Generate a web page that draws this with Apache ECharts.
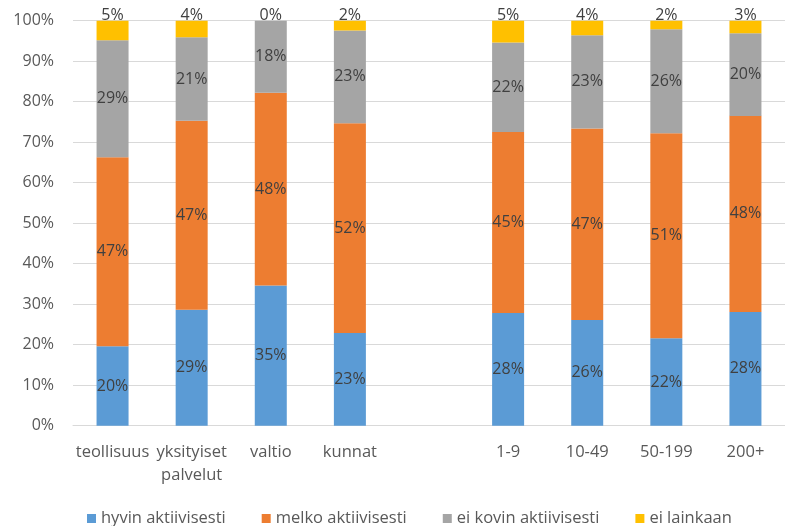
<!DOCTYPE html>
<html>
<head>
<meta charset="utf-8">
<script src="https://cdn.jsdelivr.net/npm/echarts@6/dist/echarts.min.js"></script>
<style>
html,body{margin:0;padding:0;background:#fff;}
#chart{width:785px;height:526px;}
</style>
</head>
<body>
<div id="chart"></div>
<script>
const categories = ['teollisuus', 'yksityiset\npalvelut', 'valtio', 'kunnat', '', '1-9', '10-49', '50-199', '200+'];
const seriesNames = ['hyvin aktiivisesti', 'melko aktiivisesti', 'ei kovin aktiivisesti', 'ei lainkaan'];
const hyvin   = [19.6, 28.6, 34.6, 22.9, null, 27.8, 26.1, 21.6, 28.1];
const melko   = [46.7, 46.7, 47.6, 51.8, null, 44.7, 47.3, 50.6, 48.4];
const eiKovin = [28.9, 20.6, 17.8, 22.9, null, 22.1, 23.0, 25.7, 20.4];
const eiLain  = [4.8, 4.1, 0, 2.4, null, 5.4, 3.6, 2.1, 3.1];
const yTicks = [0, 10, 20, 30, 40, 50, 60, 70, 80, 90, 100];

const colors = ['#5B9BD5', '#ED7D31', '#A5A5A5', '#FFC000'];
const FONT = 'Open Sans';
const values = [hyvin, melko, eiKovin, eiLain];

const chart = echarts.init(document.getElementById('chart'), null, {renderer: 'canvas'});
chart.setOption({
  animation: false,
  color: colors,
  textStyle: {fontFamily: FONT},
  grid: {left: 73, right: -8, top: 20.7, bottom: 100.3, containLabel: false},
  legend: {
    top: 505,
    left: 82,
    icon: 'rect',
    itemWidth: 9,
    itemHeight: 9,
    itemGap: 36,
    textStyle: {fontFamily: FONT, fontSize: 16.5, color: '#595959'},
    data: seriesNames
  },
  xAxis: {
    type: 'category',
    data: categories,
    axisLine: {lineStyle: {color: '#d9d9d9', width: 1}},
    axisTick: {show: false},
    axisLabel: {fontFamily: FONT, fontSize: 16.5, color: '#595959', margin: 15, lineHeight: 23, interval: 0}
  },
  yAxis: {
    type: 'value',
    min: yTicks[0],
    max: yTicks[yTicks.length - 1],
    interval: yTicks[1] - yTicks[0],
    axisLine: {show: false},
    axisTick: {show: false},
    splitLine: {lineStyle: {color: '#d9d9d9', width: 1}},
    axisLabel: {fontFamily: FONT, fontSize: 16, color: '#595959', margin: 19, formatter: '{value}%'}
  },
  series: seriesNames.map((name, i) => ({
    name: name,
    type: 'bar',
    stack: 'total',
    barWidth: 32,
    data: values[i],
    itemStyle: {color: colors[i]},
    label: {
      show: true,
      position: i === 3 ? 'top' : 'inside',
      distance: i === 3 ? -3 : 5,
      fontFamily: FONT,
      fontSize: 16,
      color: '#404040',
      formatter: p => (p.value == null ? '' : Math.round(p.value) + '%')
    }
  }))
});
</script>
</body>
</html>
